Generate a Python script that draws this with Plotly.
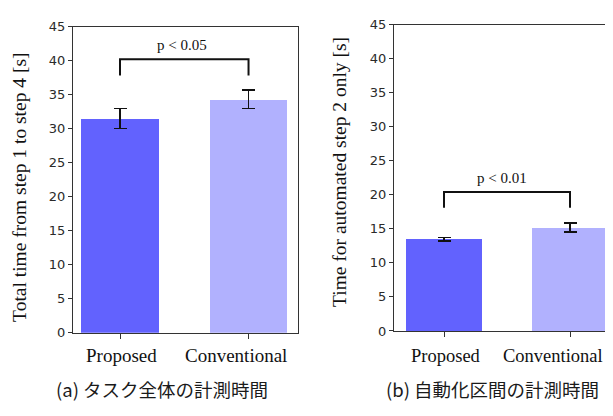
import plotly.graph_objects as go

# ---------------- data ----------------
categories = ["Proposed", "Conventional"]
total_mean = [31.5, 34.3]
total_err = [1.47, 1.35]
step2_mean = [13.5, 15.2]
step2_err = [0.25, 0.65]
y_ticks = [0, 5, 10, 15, 20, 25, 30, 35, 40, 45]
p_labels = ["p < 0.05", "p < 0.01"]
y_titles = ["Total time from step 1 to step 4 [s]", "Time for automated step 2 only [s]"]
captions = ["(a) タスク全体の計測時間", "(b) 自動化区間の計測時間"]
bar_colors = ["#6262fe", "#b1b1fe"]

# the page body has an 8px default margin; lay the figure out in window pixels
OFF = 8
W, H = 613 - OFF, 416 - OFF


def xp(px):
    return (px - OFF) / W


def yp(py):
    return 1 - (py - OFF) / H


xpos = [0, 1]

fig = go.Figure()
fig.add_trace(go.Bar(
    x=xpos, y=total_mean, width=0.6,
    marker=dict(color=bar_colors, line=dict(width=0)),
    error_y=dict(type="data", array=total_err, color="#111111", thickness=1.6, width=6.5),
    xaxis="x", yaxis="y", showlegend=False, hoverinfo="skip"))
fig.add_trace(go.Bar(
    x=xpos, y=step2_mean, width=0.6,
    marker=dict(color=bar_colors, line=dict(width=0)),
    error_y=dict(type="data", array=step2_err, color="#111111", thickness=1.6, width=6.5),
    xaxis="x2", yaxis="y2", showlegend=False, hoverinfo="skip"))

axis_common = dict(showgrid=False, zeroline=False, showline=True, linecolor="#333333",
                   linewidth=1.2, ticks="outside", tickcolor="#333333", fixedrange=True)
ytick_font = dict(family="DejaVu Sans", size=13, color="#2a2a2a")

fig.update_layout(
    width=W, height=H, margin=dict(l=0, r=0, t=0, b=0),
    paper_bgcolor="white", plot_bgcolor="white", bargap=0,
    xaxis=dict(domain=[xp(73), xp(298)], range=[-0.366, 1.385], tickvals=xpos,
               showticklabels=False, ticklen=5, mirror=True, anchor="y", **axis_common),
    yaxis=dict(domain=[yp(338), yp(20)], range=[0, 45], tickvals=y_ticks,
               ticklen=4, tickfont=ytick_font, mirror=True, anchor="x", **axis_common),
    xaxis2=dict(domain=[xp(394), 1.0], range=[-0.397, 1.341], tickvals=xpos,
                showticklabels=False, ticklen=5, mirror=True, anchor="y2", **axis_common),
    yaxis2=dict(domain=[yp(336), yp(18)], range=[0, 45], tickvals=y_ticks,
                ticklen=4, tickfont=ytick_font, mirror=False, anchor="x2", **axis_common),
)

# significance brackets
bracket = dict(color="#111111", width=2)
fig.add_shape(type="path", xref="x", yref="y",
              path="M 0,37.8 L 0,40.2 L 1,40.2 L 1,37.8", line=bracket)
fig.add_shape(type="path", xref="x2", yref="y2",
              path="M 0,18.1 L 0,20.4 L 1,20.4 L 1,18.1", line=bracket)

serif = "Liberation Serif"
ann = []
ann.append(dict(text=p_labels[0], xref="x", yref="y", x=0.5, y=42.3, showarrow=False,
                xshift=-2, font=dict(family=serif, size=15, color="#111111")))
ann.append(dict(text=p_labels[1], xref="x2", yref="y2", x=0.5, y=22.4, showarrow=False,
                xshift=-5, font=dict(family=serif, size=15, color="#111111")))

# category labels
for xr, shifts, fs in (("x", [1, -13], 19), ("x2", [2, -17], 18.5)):
    for i, c in enumerate(categories):
        ann.append(dict(text=c, xref=xr, yref="paper", x=xpos[i], y=yp(362),
                        xshift=shifts[i], showarrow=False,
                        font=dict(family=serif, size=fs, color="#111111"),
                        xanchor="center", yanchor="middle"))

# y-axis titles
ann.append(dict(text=y_titles[0], xref="paper", yref="paper", x=xp(19.5), y=yp(187),
                textangle=-90, showarrow=False, xanchor="center", yanchor="middle",
                font=dict(family=serif, size=19.5, color="#111111")))
ann.append(dict(text=y_titles[1], xref="paper", yref="paper", x=xp(339), y=yp(171),
                textangle=-90, showarrow=False, xanchor="center", yanchor="middle",
                font=dict(family=serif, size=19.5, color="#111111")))

# captions
cap_font = dict(family="Noto Sans CJK JP", size=18.5, color="#1a1a1a")
ann.append(dict(text=captions[0], xref="paper", yref="paper", x=xp(161.5), y=yp(396),
                showarrow=False, xanchor="center", yanchor="middle", font=cap_font))
ann.append(dict(text=captions[1], xref="paper", yref="paper", x=xp(492), y=yp(396),
                showarrow=False, xanchor="center", yanchor="middle", font=cap_font))

fig.update_layout(annotations=ann)
fig.write_html("out.html")
